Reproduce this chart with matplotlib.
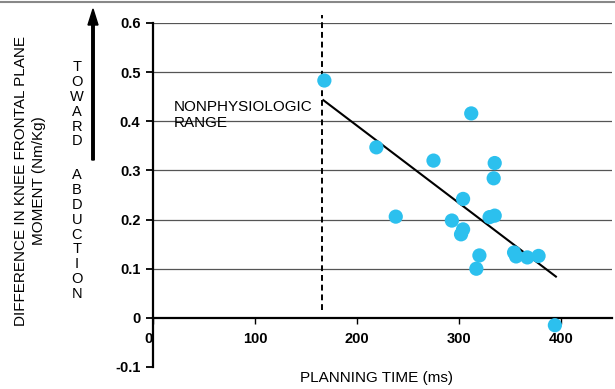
#!/usr/bin/env python3

import matplotlib
matplotlib.use('Agg')
import matplotlib.pyplot as plt
from matplotlib.lines import Line2D

plt.rcParams['font.family'] = ['Liberation Sans', 'DejaVu Sans']

# planning time (ms) vs difference in knee frontal plane moment (Nm/Kg)
planning_time = [168, 312, 219, 275, 335, 334, 304, 238, 293, 330, 335,
                 304, 302, 320, 317, 354, 356, 367, 378, 394]
moment_diff = [0.483, 0.416, 0.347, 0.320, 0.315, 0.284, 0.242, 0.206, 0.198,
               0.205, 0.208, 0.180, 0.170, 0.127, 0.100, 0.133, 0.125, 0.123,
               0.126, -0.015]

# regression line as drawn in the figure
fit_x = [167, 395]
fit_y = [0.443, 0.084]

threshold = 166  # nonphysiologic range boundary (ms)

xticks = [0, 100, 200, 300, 400]
yticks = [-0.1, 0, 0.1, 0.2, 0.3, 0.4, 0.5, 0.6]
ytick_labels = ['-0.1', '0', '0.1', '0.2', '0.3', '0.4', '0.5', '0.6']

W, H = 615, 389
fig = plt.figure(figsize=(W/100., H/100.), dpi=100)
ax = fig.add_axes([153./W, 1-367./H, 459./W, 344./H])

ax.set_xlim(0, 450)
ax.set_ylim(-0.1, 0.6)

# grid lines
for y in yticks[2:]:
    ax.axhline(y, color='#555555', lw=0.9, zorder=1)

ax.spines['top'].set_visible(False)
ax.spines['right'].set_visible(False)
ax.spines['bottom'].set_position(('data', 0))
ax.spines['bottom'].set_linewidth(1.6)
ax.spines['left'].set_linewidth(1.6)

ax.set_yticks(yticks)
ax.set_yticklabels(ytick_labels, fontweight='bold', fontsize=10.5)
ax.set_xticks(xticks)
ax.set_xticklabels(['0', '100', '200', '300', '400'], fontweight='bold',
                   fontsize=10.5)
ax.tick_params(axis='y', direction='out', length=5, width=1.3, pad=4)
ax.tick_params(axis='x', direction='out', length=4, width=1.0, pad=6)
# the 0 on the x axis sits left of the y spine
lbl0 = ax.get_xticklabels()[0]
lbl0.set_horizontalalignment('right')

# dashed threshold line
ax.plot([threshold, threshold], [0.015, 0.617], color='black', lw=1.4,
        ls=(0, (3, 2)), clip_on=False, zorder=2)

# regression line
ax.plot(fit_x, fit_y, color='black', lw=1.5, zorder=3)

# data points
ax.scatter(planning_time, moment_diff, s=105, color='#2cc0ee',
           edgecolors='none', zorder=4, clip_on=False)

ax.text(20, 0.413, 'NONPHYSIOLOGIC\nRANGE', fontsize=11, ha='left',
        va='center', linespacing=1.2)

# axis titles
fig.text(30./W, 1-181./H, 'DIFFERENCE IN KNEE FRONTAL PLANE\nMOMENT (Nm/Kg)',
         rotation=90, ha='center', va='center', fontsize=11,
         linespacing=1.4, multialignment='center')
fig.text(377./W, 1-378./H, 'PLANNING TIME (ms)', ha='center', va='center',
         fontsize=11)

# toward abduction marker
fig.text(77./W, 1-60./H, '\n'.join('TOWARD'), ha='center', va='top',
         fontsize=10.5, linespacing=1.08)
fig.text(77./W, 1-168./H, '\n'.join('ABDUCTION'), ha='center', va='top',
         fontsize=10.5, linespacing=1.08)
fig.patches.append(matplotlib.patches.FancyArrow(
    93./W, 1-160./H, 0, 151./H, width=2.5/W, head_width=10./W,
    head_length=16./H, length_includes_head=True, color='black',
    transform=fig.transFigure, figure=fig))

# thin frame line at the top of the panel
fig.lines.append(Line2D([0, 1], [1-2./H, 1-2./H], color='#888888', lw=1.5,
                        transform=fig.transFigure, figure=fig))

fig.savefig('out.png', dpi=100)
